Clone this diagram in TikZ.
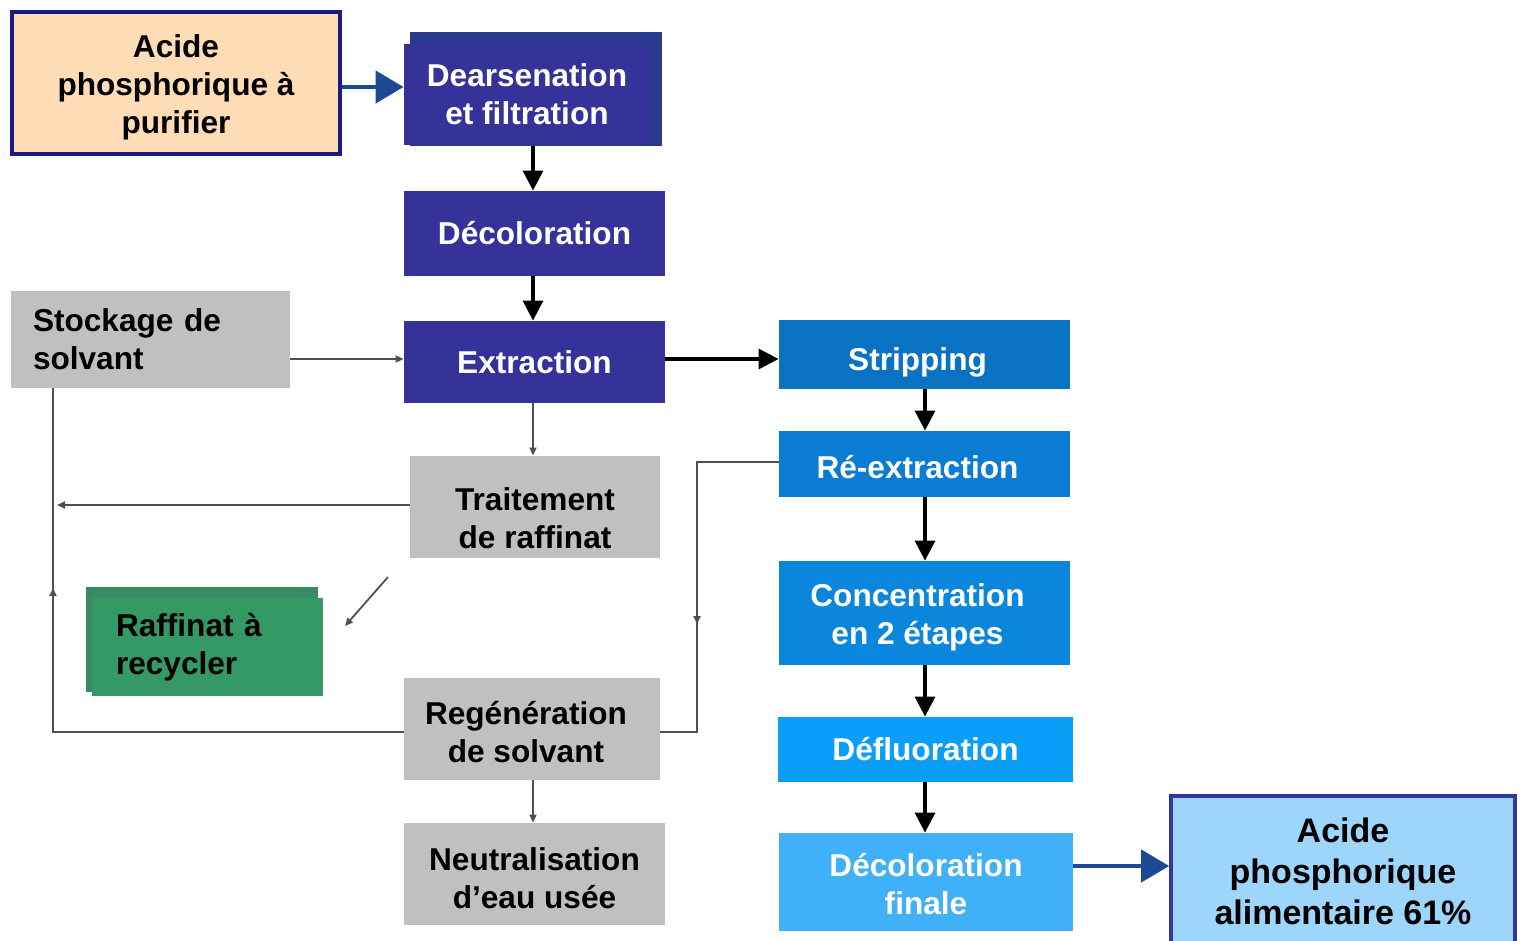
\documentclass[tikz,border=0pt]{standalone}
\usepackage{fontspec}
\setmainfont{Liberation Sans}
\usetikzlibrary{arrows.meta}
\definecolor{navyb}{RGB}{25,25,135}
\definecolor{peach}{RGB}{253,220,182}
\definecolor{purp}{RGB}{53,51,153}
\definecolor{purpback}{RGB}{40,58,142}
\definecolor{grayb}{RGB}{192,192,192}
\definecolor{greenb}{RGB}{53,153,102}
\definecolor{greenback}{RGB}{58,138,102}
\definecolor{bA}{RGB}{10,114,194}
\definecolor{bB}{RGB}{10,124,211}
\definecolor{bC}{RGB}{10,134,220}
\definecolor{bD}{RGB}{10,158,248}
\definecolor{bE}{RGB}{64,176,248}
\definecolor{finalf}{RGB}{157,213,251}
\definecolor{finalb}{RGB}{53,53,160}
\definecolor{arrnavy}{RGB}{29,75,147}
\definecolor{thinl}{RGB}{80,80,80}
\tikzset{
  base/.style={inner sep=0pt, align=center, font=\fontsize{15.8}{19}\selectfont\bfseries},
  rect/.style n args={4}{minimum width={(#3-#1)*0.5pt}, minimum height={(#4-#2)*0.5pt}, at={({(#1+#3)/2},{(#2+#4)/2})}},
  txt/.style={inner sep=0pt, align=center, font=\fontsize{15.8}{19}\selectfont\bfseries},
  purpbox/.style={base, fill=purp, text=white},
  graybox/.style={base, fill=grayb, text=black},
  bluebox/.style={base, text=white},
  thick arrow/.style={draw=black, line width=1.6pt, -{Triangle[length=10pt,width=10pt]}},
  navy arrow/.style={draw=arrnavy, line width=2.2pt, -{Triangle[length=14pt,width=16pt]}},
  thin line/.style={draw=thinl, line width=0.9pt},
  thin arrow/.style={thin line, -{Triangle[length=4pt,width=3.5pt]}},
}
\begin{document}
\begin{tikzpicture}[x=0.5pt,y=-0.5pt]
\useasboundingbox (0,0) rectangle (1521,941);
% decorative backs
\fill[purpback] (410,32) rectangle (662,146);
\fill[greenback] (86,587) rectangle (318,692);
% nodes
\node[base, fill=peach, draw=navyb, line width=2.2pt, rect={12}{12}{340}{154},
  label={[txt, yshift=-2pt]center:{Acide\\phosphorique à\\purifier}}] (acide) {};
\node[purpbox, rect={404}{44}{650}{145}] (dears) {Dearsenation\\et filtration};
\node[purpbox, rect={404}{191}{665}{276}] (deco) {Décoloration};
\node[purpbox, rect={404}{321}{665}{403}] (extr) {Extraction};
\node[graybox, rect={11}{291}{290}{388}, text width=117.5pt, align=left] (stock) {Stockage de\\solvant};
\node[graybox, rect={410}{456}{660}{558},
  label={[txt, yshift=-5.5pt]center:{Traitement\\de raffinat}}] (trait) {};
\node[base, fill=greenb, text=black, rect={92}{598}{323}{696}, text width=91.5pt, align=left] (raff) {Raffinat à\\recycler};
\node[graybox, rect={404}{678}{660}{780},
  label={[txt, yshift=-1.5pt, xshift=-3pt]center:{Regénération\\de solvant}}] (regen) {};
\node[graybox, rect={404}{823}{665}{925},
  label={[txt, yshift=-2pt]center:{Neutralisation\\d’eau usée}}] (neutr) {};
\node[bluebox, fill=bA, rect={779}{320}{1070}{389},
  label={[txt, text=white, yshift=-4pt, xshift=-3.5pt]center:Stripping}] (strip) {};
\node[bluebox, fill=bB, rect={779}{431}{1070}{497},
  label={[txt, text=white, yshift=-1.5pt, xshift=-3.5pt]center:Ré-extraction}] (reex) {};
\node[bluebox, fill=bC, rect={779}{561}{1070}{665},
  label={[txt, text=white, yshift=-2pt, xshift=-3.5pt]center:{Concentration\\en 2 étapes}}] (conc) {};
\node[bluebox, fill=bD, rect={778}{717}{1073}{782}] (defl) {Défluoration};
\node[bluebox, fill=bE, rect={779}{833}{1073}{931},
  label={[txt, text=white, yshift=-1pt]center:{Décoloration\\finale}}] (decof) {};
\node[base, font=\fontsize{17}{20.5}\selectfont\bfseries, fill=finalf, draw=finalb, line width=1.8pt, rect={1171}{796}{1515}{946}] (final) {Acide\\phosphorique\\alimentaire 61\%};
% coordinates
\coordinate (cA) at (697,462);
\coordinate (cB) at (697,732);
\coordinate (cL1) at (53,732);
\coordinate (cL2) at (53,505);
\coordinate (dg1) at (388,577);
\coordinate (dg2) at (345,626);
% main arrows
\draw[navy arrow] (acide.east |- 0,87) -- (dears.west |- 0,87);
\draw[thick arrow] (533,146) -- (deco.north -| 533,0);
\draw[thick arrow] (deco.south -| 533,0) -- (extr.north -| 533,0);
\draw[thick arrow] (extr.east |- 0,359) -- (strip.west |- 0,359);
\draw[thin arrow] (stock.east |- 0,359) -- (extr.west |- 0,359);
\draw[thin arrow] (extr.south -| 533,0) -- (trait.north -| 533,0);
\draw[thin arrow] (regen.south -| 533,0) -- (neutr.north -| 533,0);
\draw[thick arrow] (strip.south -| 925,0) -- (reex.north -| 925,0);
\draw[thick arrow] (reex.south -| 925,0) -- (conc.north -| 925,0);
\draw[thick arrow] (conc.south -| 925,0) -- (defl.north -| 925,0);
\draw[thick arrow] (defl.south -| 925,0) -- (decof.north -| 925,0);
\draw[navy arrow] (decof.east |- 0,866) -- (final.west |- 0,866);
% recycling lines
\draw[thin line] (regen.west |- cL1) -- (cL1) -- (stock.south -| cL1);
\draw[thin arrow] (53,600) -- (53,588);
\draw[thin arrow] (trait.west |- cL2) -- (57,505);
\draw[thin line] (reex.west |- cA) -- (cA) -- (cB) -- (regen.east |- cB);
\draw[thin arrow] (697,610) -- (697,624);
\draw[thin arrow] (dg1) -- (dg2);
\end{tikzpicture}
\end{document}
